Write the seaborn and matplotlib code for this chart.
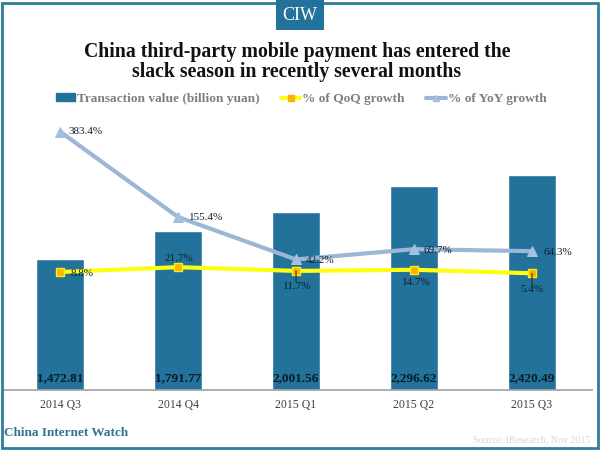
import matplotlib
matplotlib.use('Agg')
import matplotlib.pyplot as plt
from matplotlib.lines import Line2D
from matplotlib.patches import Patch, Rectangle
import pandas as pd
import seaborn as sns

quarters = ['2014 Q3', '2014 Q4', '2015 Q1', '2015 Q2', '2015 Q3']
transaction = [1472.81, 1791.77, 2001.56, 2296.62, 2420.49]
qoq = [8.8, 21.7, 11.7, 14.7, 5.4]
yoy = [383.4, 155.4, 42.2, 69.7, 64.3]

sns.set_theme(style='white')
plt.rcParams['font.family'] = ['Liberation Serif', 'DejaVu Serif']

BLUE = '#22729b'
df = pd.DataFrame({'quarter': quarters, 'value': transaction, 'qoq': qoq, 'yoy': yoy})

fig = plt.figure(figsize=(6, 4.5), dpi=100)
ax = fig.add_axes([3 / 600, 60 / 450, 589 / 600, 290 / 450])

sns.barplot(data=df, x='quarter', y='value', color=BLUE, saturation=1, width=0.4, ax=ax)
ax.set_xlim(-0.483, 4.508)
ax.set_ylim(0, 3266)
ax.set_xlabel('')
ax.set_ylabel('')
ax.set_yticks([])
ax.tick_params(axis='x', length=0, labelsize=8.5, labelcolor='#404040', pad=6.5)
for s in ['top', 'left', 'right']:
    ax.spines[s].set_visible(False)
ax.spines['bottom'].set_color('#a0a4a8')

for i, v in enumerate(transaction):
    ax.annotate(f'{v:,.2f}', (i, 0), xytext=(0, 4), textcoords='offset points', ha='center',
                va='bottom', fontsize=9.5, fontweight='bold', color='#0a1a24')

ax2 = ax.twinx()
ax2.set_ylim(-305.9, 467.5)
for s in ax2.spines.values():
    s.set_visible(False)

sns.lineplot(data=df, x='quarter', y='yoy', color='#9db6d6', lw=3, marker='^', ms=7.5,
             mfc='#a5bfe0', mec='#a5bfe0', ax=ax2, sort=False)
sns.lineplot(data=df, x='quarter', y='qoq', color='#ffff14', lw=3, marker='s', ms=5.5,
             mfc='#f5b400', mec='#ffef00', mew=1, ax=ax2, sort=False)
ax2.set_ylabel('')
ax2.set_yticks([])
ax2.set_xlabel('')

# label offsets in points, one per point
yoy_off = [(6, 0), (8, 0), (7, -1), (7, -1), (8, -1)]
qoq_off = [(8, -1), (1, 6), (1, -11), (2, -9), (0, -12)]
for i, v in enumerate(yoy):
    ax2.annotate(f'{v}%', (i, v), xytext=yoy_off[i], textcoords='offset points', ha='left',
                 va='center', fontsize=8, color='#10202c')
for i, v in enumerate(qoq):
    ha = 'left' if i == 0 else 'center'
    ax2.annotate(f'{v}%', (i, v), xytext=qoq_off[i], textcoords='offset points', ha=ha,
                 va='center', fontsize=8, color='#10202c')
for i in [2, 4]:
    ax2.annotate('', (i, qoq[i]), xytext=(0, -8), textcoords='offset points',
                 arrowprops=dict(arrowstyle='-', color='#10202c', lw=0.7, shrinkA=0, shrinkB=0))

handles = [
    Patch(color=BLUE),
    Line2D([], [], color='#ffff14', lw=3, marker='s', ms=4, mfc='#f5b400', mec='#f5b400'),
    Line2D([], [], color='#9db6d6', lw=3, marker='^', ms=4, mfc='#a5bfe0', mec='#a5bfe0'),
]
labels = ['Transaction value (billion yuan)', '% of QoQ growth', '% of YoY growth']
fig.legend(handles, labels, ncol=3, loc='center', bbox_to_anchor=(301 / 600, 1 - 99 / 450), frameon=False,
           labelcolor='#7f7f7f', handlelength=1.45, handleheight=0.5, handletextpad=0.15, columnspacing=1.6,
           borderpad=0, prop={'weight': 'bold', 'size': 9.6})

fig.text(297 / 600, 1 - 52 / 450, 'China third-party mobile payment has entered the', ha='center', va='center',
         fontsize=14.2, fontweight='bold', color='#111111')
fig.text(297 / 600, 1 - 72 / 450, 'slack season in recently several months', ha='center', va='center',
         fontsize=14.2, fontweight='bold', color='#111111')

# frame and header tab
fig.add_artist(Rectangle((1.5 / 600, 1 - 448 / 450), 596 / 600, 445 / 450, transform=fig.transFigure,
                         fill=False, ec='#2f7d9c', lw=2))
fig.add_artist(Rectangle((276 / 600, 1 - 30 / 450), 48 / 600, 30 / 450, transform=fig.transFigure,
                         fc=BLUE, ec='none'))
fig.text(300 / 600, 1 - 15 / 450, 'CIW', ha='center', va='center', fontsize=13, color='white')

fig.text(4 / 600, 1 - 433 / 450, 'China Internet Watch', ha='left', va='center', fontsize=9.5,
         fontweight='bold', color='#2f7490')
fig.text(590 / 600, 1 - 440 / 450, 'Source: iResearch, Nov 2015', ha='right', va='center', fontsize=7.2,
         color='#d2d6d8')

fig.savefig('out.png', dpi=100)
